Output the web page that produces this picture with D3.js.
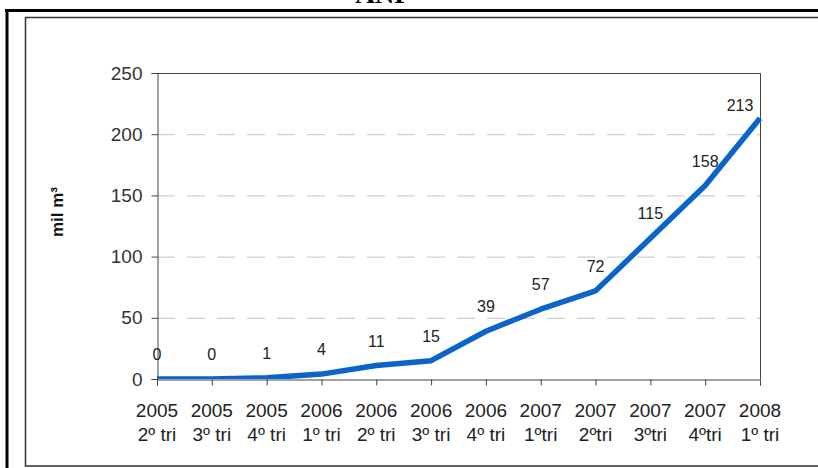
<!DOCTYPE html>
<html>
<head>
<meta charset="utf-8">
<script src="https://cdn.jsdelivr.net/npm/d3@7"></script>
<style>
  body { margin: 0; background: #fff; }
  svg { display: block; font-family: Arial, "Liberation Sans", sans-serif; }
</style>
</head>
<body>
<div id="chart"></div>
<script>
var years = ["2005", "2005", "2005", "2006", "2006", "2006", "2006", "2007", "2007", "2007", "2007", "2008"];
var quarters = ["2º tri", "3º tri", "4º tri", "1º tri", "2º tri", "3º tri", "4º tri", "1ºtri", "2ºtri", "3ºtri", "4ºtri", "1º tri"];
var values = [0, 0, 1, 4, 11, 15, 39, 57, 72, 115, 158, 213];
var yTicks = [0, 50, 100, 150, 200, 250];

var width = 818, height = 468;
var plotLeft = 157, plotRight = 760, plotTop = 73, plotBottom = 379;

var svg = d3.select("#chart").append("svg")
  .attr("width", width)
  .attr("height", height);

// page frame (document border, cut at the top)
svg.append("text")
  .attr("x", 383).attr("y", 3)
  .attr("text-anchor", "middle")
  .style("font-family", "'Liberation Serif', 'DejaVu Serif', serif")
  .style("font-weight", "bold")
  .style("font-size", "27px")
  .text("ANP");
svg.append("line").attr("x1", 5).attr("x2", width).attr("y1", 10.5).attr("y2", 10.5)
  .attr("stroke", "#000").attr("stroke-width", 3);
svg.append("line").attr("x1", 7).attr("x2", 7).attr("y1", 9).attr("y2", height)
  .attr("stroke", "#000").attr("stroke-width", 3);
svg.append("rect").attr("x", 25.5).attr("y", 17.5).attr("width", width).attr("height", 448.5)
  .attr("fill", "none").attr("stroke", "#333").attr("stroke-width", 1.5);

var x = d3.scalePoint()
  .domain(d3.range(values.length))
  .range([plotLeft, plotRight]);

var y = d3.scaleLinear()
  .domain([0, 250])
  .range([plotBottom, plotTop]);

// gridlines
svg.append("g").selectAll("line")
  .data(yTicks.filter(function(d) { return d > 0 && d < 250; }))
  .enter().append("line")
  .attr("x1", plotLeft).attr("x2", plotRight)
  .attr("y1", function(d) { return y(d) + 0.5; })
  .attr("y2", function(d) { return y(d) + 0.5; })
  .attr("stroke", "#c4c4c4")
  .attr("stroke-dasharray", "18,12");

// plot border top/right
svg.append("path")
  .attr("d", "M" + plotLeft + "," + (plotTop + 0.5) + "H" + (plotRight + 0.5) + "V" + plotBottom)
  .attr("fill", "none").attr("stroke", "#444");

// y axis
var yAxis = svg.append("g")
  .attr("transform", "translate(" + (plotLeft + 0.5) + ",0)")
  .call(d3.axisLeft(y).tickValues(yTicks).tickSize(6).tickPadding(9));
yAxis.select(".domain").attr("stroke", "#444");
yAxis.selectAll(".tick line").attr("stroke", "#444");
yAxis.selectAll(".tick text")
  .attr("fill", "#333")
  .style("font-size", "19px")
  .style("font-family", "Arial, 'Liberation Sans', sans-serif");

// x axis
var xAxis = svg.append("g")
  .attr("transform", "translate(0," + (plotBottom + 0.5) + ")")
  .call(d3.axisBottom(x).tickSize(6).tickFormat(""));
xAxis.select(".domain").attr("stroke", "#444");
xAxis.selectAll(".tick line").attr("stroke", "#444");

var xl = svg.append("g").selectAll("text")
  .data(values)
  .enter().append("text")
  .attr("x", function(d, i) { return x(i); })
  .attr("text-anchor", "middle")
  .attr("fill", "#222")
  .style("font-size", "19px");
xl.append("tspan")
  .attr("x", function(d, i) { return x(i); })
  .attr("y", 417)
  .text(function(d, i) { return years[i]; });
xl.append("tspan")
  .attr("x", function(d, i) { return x(i); })
  .attr("y", 441)
  .text(function(d, i) { return quarters[i]; });

// y title
svg.append("text")
  .attr("transform", "translate(63,212) rotate(-90)")
  .attr("text-anchor", "middle")
  .style("font-size", "17px")
  .style("font-weight", "bold")
  .attr("fill", "#111")
  .text("mil m³");

// line, clipped to plot area
svg.append("clipPath").attr("id", "plotclip")
  .append("rect").attr("x", plotLeft).attr("y", plotTop)
  .attr("width", plotRight - plotLeft + 3).attr("height", plotBottom - plotTop);

var line = d3.line()
  .x(function(d, i) { return x(i); })
  .y(function(d) { return y(d); });

svg.append("path")
  .datum(values)
  .attr("clip-path", "url(#plotclip)")
  .attr("d", line)
  .attr("fill", "none")
  .attr("stroke", "#0a64cc")
  .attr("stroke-width", 5.5)
  .attr("stroke-linejoin", "round");

// data labels
var last = values.length - 1;
svg.append("g").selectAll("text")
  .data(values)
  .enter().append("text")
  .attr("x", function(d, i) { return i === last ? x(i) - 20 : x(i); })
  .attr("y", function(d, i) { return i === last ? y(d) - 7 : y(d) - 19; })
  .attr("text-anchor", "middle")
  .attr("fill", "#222")
  .style("font-size", "16px")
  .text(function(d) { return d; });
</script>
</body>
</html>
